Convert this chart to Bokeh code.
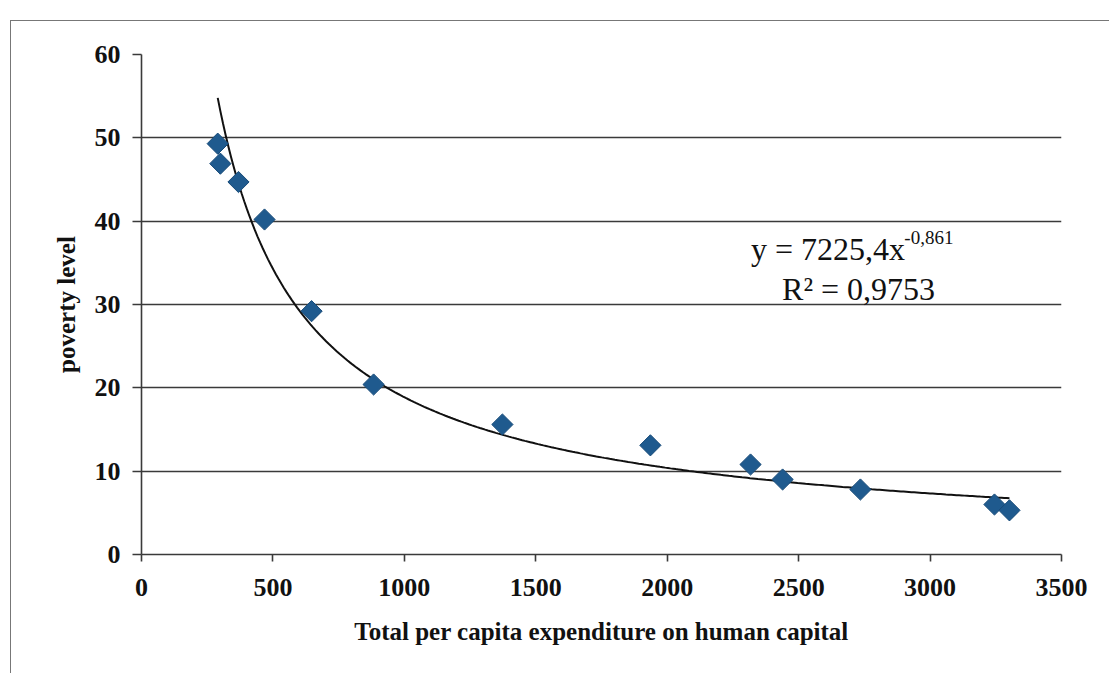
import numpy as np
from bokeh.plotting import figure
from bokeh.models import Range1d, Label, FixedTicker, ColumnDataSource
from bokeh.embed import file_html
from bokeh.resources import INLINE

# ---- data ----
expenditure = [290, 300, 369, 468, 647, 883, 1373, 1936, 2317, 2439, 2735, 3245, 3302]
poverty = [49.3, 46.9, 44.7, 40.2, 29.2, 20.4, 15.6, 13.1, 10.8, 9.0, 7.8, 6.0, 5.3]
x_ticks = [0, 500, 1000, 1500, 2000, 2500, 3000, 3500]
y_ticks = [0, 10, 20, 30, 40, 50, 60]
# power trendline shown on the chart: y = 7225,4 x^-0,861
trend_a = 7225.4
trend_b = -0.861

SERIF = "Liberation Serif"
GRID = "#3a3a3a"

p = figure(width=1099, height=653, output_backend="svg", toolbar_location=None,
           x_range=Range1d(0, 3500), y_range=Range1d(0, 60),
           min_border_left=130, min_border_right=49, min_border_top=33, min_border_bottom=120)
p.margin = (20, 0, 0, 10)
p.styles = {"border-top": "1.5px solid #777", "border-left": "1.5px solid #777"}
p.outline_line_color = None
p.background_fill_color = "white"
p.border_fill_color = "white"

# grid
p.xgrid.grid_line_color = None
p.ygrid.grid_line_color = GRID
p.ygrid.grid_line_width = 1.6
p.ygrid.ticker = FixedTicker(ticks=y_ticks[1:])

# axes
p.xaxis.ticker = FixedTicker(ticks=x_ticks)
p.yaxis.ticker = FixedTicker(ticks=y_ticks)
for ax in (p.xaxis[0], p.yaxis[0]):
    ax.axis_line_color = GRID
    ax.axis_line_width = 1.6
    ax.major_tick_line_color = GRID
    ax.major_tick_line_width = 1.6
    ax.minor_tick_line_color = None
    ax.major_tick_in = 0
    ax.major_label_text_font = SERIF
    ax.major_label_text_font_style = "bold"
    ax.major_label_text_font_size = "26px"
    ax.major_label_text_color = "#111"
    ax.axis_label_text_font = SERIF
    ax.axis_label_text_font_style = "bold"
    ax.axis_label_text_font_size = "25px"
    ax.axis_label_text_color = "#111"
p.xaxis.major_tick_out = 7
p.yaxis.major_tick_out = 9
p.xaxis.major_label_standoff = 17
p.yaxis.major_label_standoff = 12
p.xaxis.axis_label = "Total per capita expenditure on human capital"
p.yaxis.axis_label = "poverty level"
p.xaxis.axis_label_standoff = 19
p.yaxis.axis_label_standoff = 12

# trendline over data range
xt = np.linspace(min(expenditure), max(expenditure), 300)
yt = trend_a * xt ** trend_b
p.line(xt, yt, line_color="#111", line_width=2)

# points
src = ColumnDataSource(dict(x=expenditure, y=poverty))
p.scatter("x", "y", source=src, marker="square", size=15, angle=45, angle_units="deg",
          fill_color="#1f5a8e", line_color="#174a78", line_width=1)

# equation
p.add_layout(Label(x=2319, y=36.7, text="y = 7225,4x", text_font=SERIF, text_font_size="32px",
                   text_baseline="alphabetic", text_color="#111"))
p.add_layout(Label(x=2902, y=38.1, text="-0,861", text_font=SERIF, text_font_size="19px",
                   text_baseline="alphabetic", text_color="#111"))
p.add_layout(Label(x=2437, y=31.9, text="R² = 0,9753", text_font=SERIF, text_font_size="32px",
                   text_baseline="alphabetic", text_color="#111"))

open("out.html", "w").write(file_html(p, INLINE))
